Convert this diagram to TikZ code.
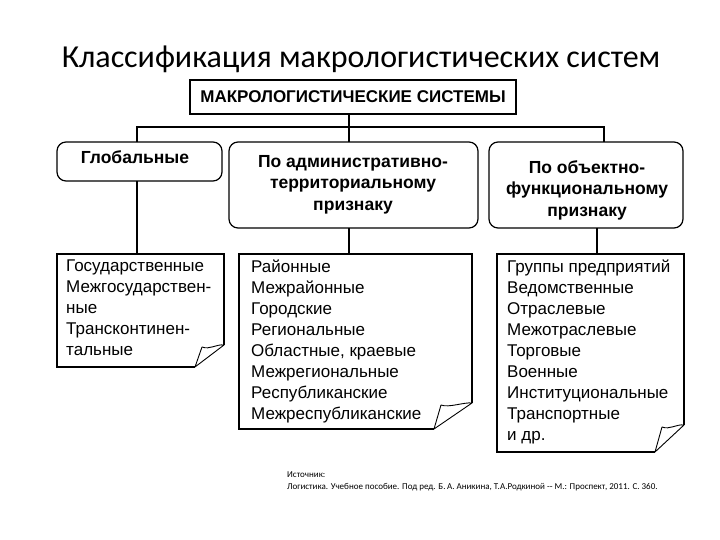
\documentclass[tikz,border=0pt]{standalone}
\usepackage{fontspec}
\setmainfont{Liberation Sans}
\newfontfamily\titlefont{Carlito}
\tikzset{
  box/.style={draw, line width=1.2pt},
  rbox/.style={draw, line width=1.2pt, rounded corners=9pt},
  conn/.style={line width=1.2pt},
  head/.style={font=\fontsize{17.5}{21.5}\selectfont\bfseries, align=center, inner sep=0pt},
  body/.style={font=\fontsize{17}{21}\selectfont, align=left, inner sep=0pt, anchor=north west},
}
\newcommand{\curlbox}[6]{%
  \draw[conn] (#3,#4-#6) -- (#3,#2) -- (#1,#2) -- (#1,#4) -- (#3-#5,#4);
  \draw[line width=0.9pt, line join=round] (#3-#5,#4) -- (#3-#5+7,#4-#6+2)
     .. controls (#3-#5+15,#4-#6+5) and (#3-8,#4-#6-1) .. (#3,#4-#6) -- cycle;
}
\begin{document}
\begin{tikzpicture}[x=1pt,y=-1pt]
\useasboundingbox (0,0) rectangle (720,540);
% title
\node[font=\titlefont\fontsize{32}{34}\selectfont, inner sep=0pt] (title) at (361,59) {Классификация макрологистических систем};
% top box
\draw[box, line width=1.5pt] (190,80) rectangle (516,114);
\node[font=\fontsize{17}{19}\selectfont\bfseries, inner sep=0pt] (top) at (353,97) {МАКРОЛОГИСТИЧЕСКИЕ СИСТЕМЫ};
% second row boxes
\draw[rbox] (57,142) rectangle (222,181);
\node[head, anchor=north] (g) at (135,150) {Глобальные};
\draw[rbox] (229,142) rectangle (478,228);
\node[head, anchor=north] (a) at (353,155) {По административно-\\территориальному\\признаку};
\draw[rbox] (489,142) rectangle (683,228);
\node[head, anchor=north] (o) at (587,160) {По объектно-\\функциональному\\признаку};
% connectors
\coordinate (t0) at (349,114);
\coordinate (t1) at (349,127);
\coordinate (h1) at (137,127);
\coordinate (h3) at (604,127);
\draw[conn] (t0) -- (t1);
\draw[conn] (h1 |- 0,142) -- (h1) -- (h3) -- (h3 |- 0,142);
\draw[conn] (t1) -- (349,142);
\draw[conn] (137,181) -- (137,254);
\draw[conn] (349,228) -- (349,254);
\draw[conn] (597,228) -- (597,254);
% bottom boxes
\curlbox{57}{254}{224}{367}{29}{22}
\curlbox{239}{254}{472}{429}{38}{26}
\curlbox{497}{254}{684}{452}{29}{27}
\node[body] (la) at (66,260) {Государственные\\Межгосударствен-\\ные\\Трансконтинен-\\тальные};
\node[body] (lb) at (251,260) {Районные\\Межрайонные\\Городские\\Региональные\\Областные, краевые\\Межрегиональные\\Республиканские\\Межреспубликанские};
\node[body] (lc) at (507,260) {Группы предприятий\\Ведомственные\\Отраслевые\\Межотраслевые\\Торговые\\Военные\\Институциональные\\Транспортные\\и др.};
% source
\node[font=\titlefont\fontsize{9}{11.5}\selectfont, align=left, anchor=north west, inner sep=0pt] (src) at (287,472) {Источник:\\Логистика. Учебное пособие. Под ред. Б.\,А. Аникина, Т.А.Родкиной -- М.: Проспект, 2011. С. 360.};
\end{tikzpicture}
\end{document}
